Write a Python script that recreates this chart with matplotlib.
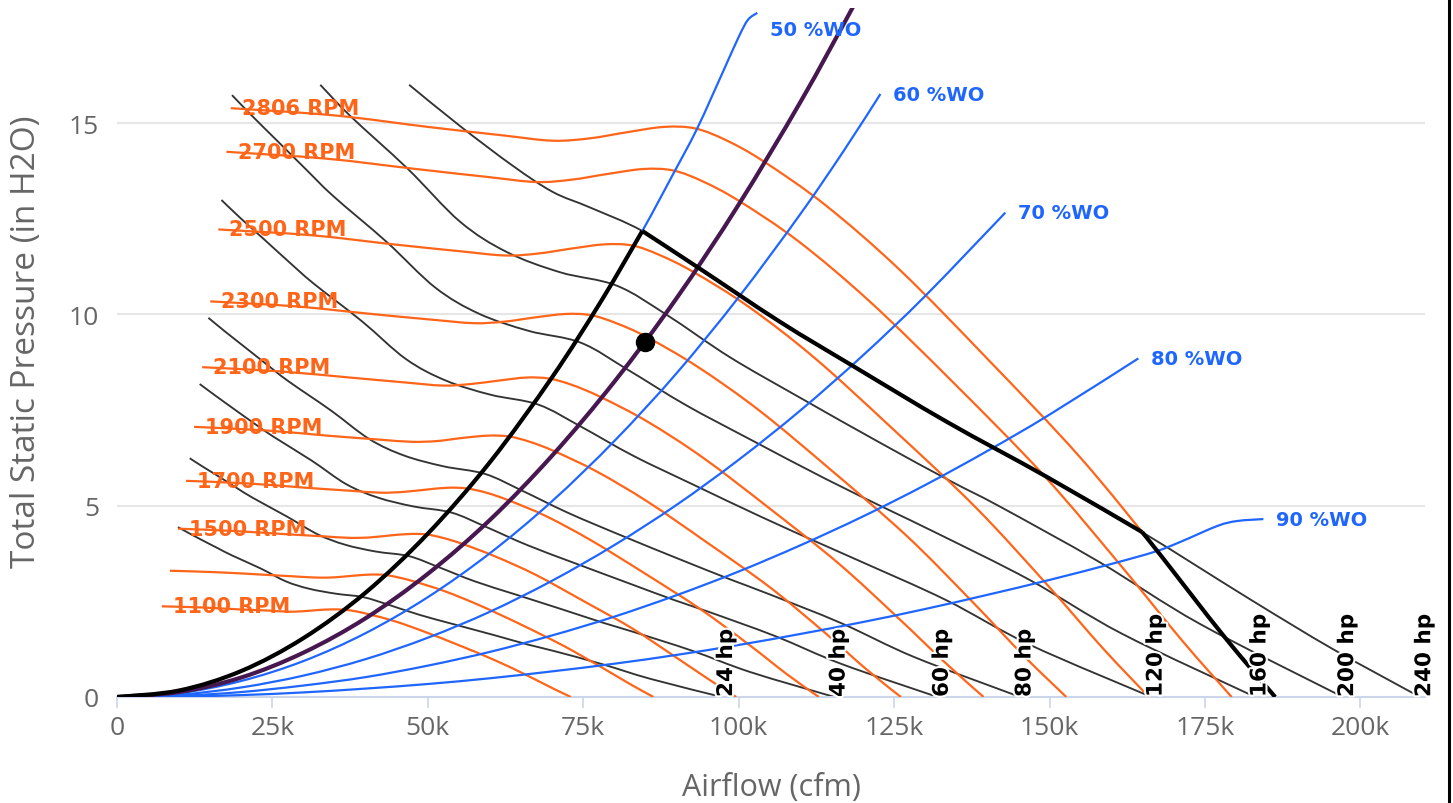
import matplotlib
matplotlib.use("Agg")
import matplotlib.pyplot as plt
import matplotlib.patheffects as pe
from matplotlib.lines import Line2D
from matplotlib.path import Path
from matplotlib.patches import PathPatch

# airflow in thousands of cfm, pressure in inches of water

# fan curves, one per speed
rpm_2806_q = [18.3, 35, 50, 62, 70, 76, 82, 88, 93, 98, 104, 114, 126, 140, 155, 168, 178, 186.3]
rpm_2806_p = [15.39, 15.20, 14.90, 14.68, 14.54, 14.60, 14.76, 14.90, 14.86, 14.55, 14.00, 12.85, 11.15, 8.84, 6.25, 3.68, 1.60, 0.0]
rpm_2700_q = [17.6, 33.7, 48.1, 59.7, 67.4, 73.1, 78.9, 84.7, 89.5, 94.3, 100.1, 109.7, 121.2, 134.7, 149.1, 161.6, 171.3, 179.3]
rpm_2700_p = [14.25, 14.07, 13.80, 13.59, 13.46, 13.52, 13.67, 13.80, 13.76, 13.47, 12.96, 11.90, 10.32, 8.19, 5.79, 3.41, 1.48, 0.0]
rpm_2500_q = [16.3, 31.2, 44.5, 55.2, 62.4, 67.7, 73.1, 78.4, 82.9, 87.3, 92.7, 101.6, 112.3, 124.7, 138.1, 149.7, 158.6, 166.0]
rpm_2500_p = [12.22, 12.07, 11.83, 11.65, 11.54, 11.59, 11.72, 11.83, 11.80, 11.55, 11.11, 10.20, 8.85, 7.02, 4.96, 2.92, 1.27, 0.0]
rpm_2300_q = [15.0, 28.7, 41.0, 50.8, 57.4, 62.3, 67.2, 72.1, 76.2, 80.3, 85.2, 93.4, 103.3, 114.8, 127.1, 137.7, 145.9, 152.7]
rpm_2300_p = [10.34, 10.21, 10.01, 9.86, 9.77, 9.81, 9.92, 10.01, 9.98, 9.77, 9.41, 8.63, 7.49, 5.94, 4.20, 2.47, 1.07, 0.0]
rpm_2100_q = [13.7, 26.2, 37.4, 46.4, 52.4, 56.9, 61.4, 65.9, 69.6, 73.3, 77.8, 85.3, 94.3, 104.8, 116.0, 125.7, 133.2, 139.4]
rpm_2100_p = [8.62, 8.51, 8.35, 8.22, 8.14, 8.18, 8.27, 8.35, 8.32, 8.15, 7.84, 7.20, 6.25, 4.95, 3.50, 2.06, 0.90, 0.0]
rpm_1900_q = [12.4, 23.7, 33.9, 42.0, 47.4, 51.5, 55.5, 59.6, 63.0, 66.4, 70.4, 77.2, 85.3, 94.8, 105.0, 113.8, 120.5, 126.1]
rpm_1900_p = [7.06, 6.97, 6.83, 6.73, 6.67, 6.69, 6.77, 6.83, 6.81, 6.67, 6.42, 5.89, 5.11, 4.05, 2.87, 1.69, 0.73, 0.0]
rpm_1700_q = [11.1, 21.2, 30.3, 37.6, 42.4, 46.0, 49.7, 53.3, 56.3, 59.4, 63.0, 69.1, 76.3, 84.8, 93.9, 101.8, 107.8, 112.9]
rpm_1700_p = [5.65, 5.58, 5.47, 5.39, 5.34, 5.36, 5.42, 5.47, 5.45, 5.34, 5.14, 4.72, 4.09, 3.24, 2.29, 1.35, 0.59, 0.0]
rpm_1500_q = [9.8, 18.7, 26.7, 33.1, 37.4, 40.6, 43.8, 47.0, 49.7, 52.4, 55.6, 60.9, 67.4, 74.8, 82.9, 89.8, 95.2, 99.6]
rpm_1500_p = [4.40, 4.34, 4.26, 4.20, 4.16, 4.17, 4.22, 4.26, 4.25, 4.16, 4.00, 3.67, 3.19, 2.53, 1.79, 1.05, 0.46, 0.0]
rpm_1300_q = [8.5, 16.2, 23.2, 28.7, 32.4, 35.2, 38.0, 40.8, 43.1, 45.4, 48.2, 52.8, 58.4, 64.9, 71.8, 77.8, 82.5, 86.3]
rpm_1300_p = [3.30, 3.26, 3.20, 3.15, 3.12, 3.13, 3.17, 3.20, 3.19, 3.12, 3.00, 2.76, 2.39, 1.90, 1.34, 0.79, 0.34, 0.0]
rpm_1100_q = [7.2, 13.7, 19.6, 24.3, 27.4, 29.8, 32.1, 34.5, 36.5, 38.4, 40.8, 44.7, 49.4, 54.9, 60.8, 65.9, 69.8, 73.0]
rpm_1100_p = [2.37, 2.34, 2.29, 2.26, 2.23, 2.24, 2.27, 2.29, 2.28, 2.24, 2.15, 1.98, 1.71, 1.36, 0.96, 0.57, 0.25, 0.0]

# constant power lines
hp_24_q = [9.8, 11.6, 13.8, 16.2, 18.5, 23.1, 27.2, 30.9, 35.2, 39.6, 43.7, 48.6, 54.2, 60.6, 66.1, 70.1, 78.0, 85.9, 97.3]
hp_24_p = [4.44, 4.28, 4.09, 3.89, 3.70, 3.36, 3.02, 2.83, 2.70, 2.61, 2.41, 2.15, 1.90, 1.62, 1.37, 1.21, 0.86, 0.47, 0.0]
hp_40_q = [11.7, 13.8, 16.4, 19.2, 21.9, 27.3, 32.3, 36.7, 41.7, 47.0, 51.8, 57.6, 64.3, 71.8, 78.4, 83.1, 92.5, 101.9, 115.4]
hp_40_p = [6.24, 6.02, 5.76, 5.47, 5.20, 4.72, 4.25, 3.98, 3.80, 3.68, 3.39, 3.02, 2.67, 2.28, 1.93, 1.70, 1.21, 0.65, 0.0]
hp_60_q = [13.3, 15.8, 18.7, 21.9, 25.1, 31.3, 36.9, 42.0, 47.7, 53.8, 59.3, 66.0, 73.6, 82.2, 89.7, 95.1, 105.9, 116.6, 132.0]
hp_60_p = [8.18, 7.88, 7.54, 7.17, 6.81, 6.18, 5.56, 5.21, 4.98, 4.82, 4.45, 3.97, 3.50, 2.98, 2.53, 2.23, 1.59, 0.86, 0.0]
hp_80_q = [14.7, 17.4, 20.6, 24.1, 27.6, 34.4, 40.6, 46.2, 52.5, 59.2, 65.2, 72.6, 81.0, 90.5, 98.7, 104.7, 116.5, 128.3, 145.3]
hp_80_p = [9.91, 9.55, 9.14, 8.69, 8.25, 7.49, 6.74, 6.31, 6.03, 5.83, 5.39, 4.81, 4.23, 3.60, 3.07, 2.70, 1.93, 1.04, 0.0]
hp_120_q = [16.8, 19.9, 23.6, 27.6, 31.6, 39.4, 46.5, 52.9, 60.1, 67.8, 74.7, 83.1, 92.7, 103.6, 113.0, 119.8, 133.4, 146.9, 166.4]
hp_120_p = [12.99, 12.51, 11.97, 11.38, 10.81, 9.82, 8.83, 8.27, 7.90, 7.64, 7.06, 6.30, 5.55, 4.71, 4.02, 3.53, 2.53, 1.36, 0.0]
hp_160_q = [18.5, 21.9, 26.0, 30.4, 34.8, 43.4, 51.2, 58.2, 66.2, 74.6, 82.2, 91.5, 102.0, 114.0, 124.4, 131.9, 146.8, 161.7, 183.1]
hp_160_p = [15.73, 15.16, 14.50, 13.79, 13.09, 11.89, 10.70, 10.02, 9.57, 9.26, 8.55, 7.63, 6.72, 5.70, 4.87, 4.28, 3.06, 1.65, 0.0]
hp_200_q = [32.7, 37.5, 46.8, 55.2, 62.7, 71.3, 80.4, 88.5, 98.6, 109.9, 122.8, 134.0, 142.1, 158.1, 174.2, 197.2]
hp_200_p = [16.00, 15.19, 13.80, 12.42, 11.63, 11.10, 10.75, 9.98, 8.88, 7.82, 6.64, 5.65, 4.97, 3.52, 1.91, 0.0]
hp_240_q = [47.0, 55.2, 63.7, 70.1, 76.0, 84.5, 93.8, 106.7, 118.4, 133.5, 149.6, 164.9, 182.3, 195.6, 209.6]
hp_240_p = [16.00, 14.92, 13.88, 13.20, 12.80, 12.18, 11.19, 9.80, 8.65, 7.19, 5.75, 4.31, 2.55, 1.25, 0.0]

# percent wide open lines
wo_50_q = [0, 10, 20, 30, 40, 50, 60, 70, 78, 84.5, 89.4, 93.3, 97.5, 100.0, 101.5, 103.0]
wo_50_p = [0, 0.17, 0.68, 1.54, 2.73, 4.27, 6.14, 8.36, 10.38, 12.18, 13.65, 14.85, 16.35, 17.25, 17.70, 17.88]
wo_60_q = [0, 10, 20, 30, 40, 50, 60, 70, 80, 90, 100, 110, 117, 122.8]
wo_60_p = [0, 0.10, 0.42, 0.94, 1.67, 2.61, 3.76, 5.12, 6.69, 8.46, 10.45, 12.64, 14.30, 15.76]
wo_70_q = [0, 10, 20, 30, 40, 50, 60, 70, 80, 90, 100, 110, 120, 130, 142.9]
wo_70_p = [0, 0.06, 0.25, 0.56, 0.99, 1.55, 2.23, 3.04, 3.97, 5.02, 6.20, 7.50, 8.93, 10.48, 12.66]
wo_80_q = [0, 10, 20, 30, 40, 50, 60, 70, 80, 90, 100, 110, 120, 130, 140, 150, 164.3]
wo_80_p = [0, 0.03, 0.13, 0.30, 0.52, 0.82, 1.18, 1.61, 2.10, 2.66, 3.28, 3.97, 4.72, 5.54, 6.43, 7.38, 8.85]
wo_90_q = [0, 10, 20, 30, 40, 50, 60, 70, 80, 90, 100, 110, 120, 130, 140, 150, 160, 167, 171, 177, 180.2, 184.4]
wo_90_p = [0, 0.01, 0.05, 0.12, 0.22, 0.34, 0.49, 0.67, 0.87, 1.10, 1.36, 1.65, 1.96, 2.30, 2.67, 3.06, 3.48, 3.80, 4.05, 4.47, 4.60, 4.65]

# system curve through the operating point
system_q = [0, 10, 20, 30, 40, 50, 60, 70, 80, 90, 100, 110, 118, 120]
system_p = [0, 0.13, 0.51, 1.16, 2.06, 3.22, 4.63, 6.31, 8.24, 10.42, 12.87, 15.57, 17.92, 18.53]

# operating envelope (thick black): system side, 240 hp side, top speed side
limit_q = [0, 10, 20, 30, 40, 50, 60, 70, 78, 84.5, 93.8, 106.7, 118.4, 133.5, 149.6, 164.9, 168.0, 178.0, 186.3]
limit_p = [0, 0.17, 0.68, 1.54, 2.73, 4.27, 6.14, 8.36, 10.38, 12.18, 11.19, 9.80, 8.65, 7.19, 5.75, 4.31, 3.68, 1.60, 0]
limit_corners = [9, 15]

op_q = 84.9
op_p = 9.28

x_ticks = [0, 25, 50, 75, 100, 125, 150, 175, 200]
y_ticks = [0, 5, 10, 15]

ORANGE = "#ff6519"
BLUE = "#1f66ff"
PURPLE = "#46184f"
GREY_TEXT = "#666666"
AXIS = "#ccd6eb"

rpm_curves = [
    ("2806 RPM", rpm_2806_q, rpm_2806_p),
    ("2700 RPM", rpm_2700_q, rpm_2700_p),
    ("2500 RPM", rpm_2500_q, rpm_2500_p),
    ("2300 RPM", rpm_2300_q, rpm_2300_p),
    ("2100 RPM", rpm_2100_q, rpm_2100_p),
    ("1900 RPM", rpm_1900_q, rpm_1900_p),
    ("1700 RPM", rpm_1700_q, rpm_1700_p),
    ("1500 RPM", rpm_1500_q, rpm_1500_p),
    (None, rpm_1300_q, rpm_1300_p),
    ("1100 RPM", rpm_1100_q, rpm_1100_p),
]
hp_lines = [
    ("24 hp", hp_24_q, hp_24_p),
    ("40 hp", hp_40_q, hp_40_p),
    ("60 hp", hp_60_q, hp_60_p),
    ("80 hp", hp_80_q, hp_80_p),
    ("120 hp", hp_120_q, hp_120_p),
    ("160 hp", hp_160_q, hp_160_p),
    ("200 hp", hp_200_q, hp_200_p),
    ("240 hp", hp_240_q, hp_240_p),
]
wo_lines = [
    ("50 %WO", wo_50_q, wo_50_p),
    ("60 %WO", wo_60_q, wo_60_p),
    ("70 %WO", wo_70_q, wo_70_p),
    ("80 %WO", wo_80_q, wo_80_p),
    ("90 %WO", wo_90_q, wo_90_p),
]


def spline_path(q, p):
    # render the points as a smooth curve, like a highcharts "spline" series
    pts = list(zip(q, p))
    verts = [pts[0]]
    codes = [Path.MOVETO]
    n = len(pts)
    for i in range(n - 1):
        p0 = pts[max(i - 1, 0)]
        p1 = pts[i]
        p2 = pts[i + 1]
        p3 = pts[min(i + 2, n - 1)]
        c1 = (p1[0] + (p2[0] - p0[0]) / 6, p1[1] + (p2[1] - p0[1]) / 6)
        c2 = (p2[0] - (p3[0] - p1[0]) / 6, p2[1] - (p3[1] - p1[1]) / 6)
        verts += [c1, c2, p2]
        codes += [Path.CURVE4] * 3
    return Path(verts, codes)


def draw_spline(ax, q, p, **kw):
    patch = PathPatch(spline_path(q, p), fill=False, capstyle="butt", **kw)
    ax.add_patch(patch)
    return patch


W, H = 1453, 804
fig = plt.figure(figsize=(W / 100, H / 100), dpi=100)
ax = fig.add_axes([117 / W, 1 - 698 / H, (1425 - 117) / W, (698 - 9.3) / H])
ax.set_xlim(0, 210.4)
ax.set_ylim(0, 18)

halo = [pe.withStroke(linewidth=3, foreground="white")]

for label, q, p in hp_lines:
    draw_spline(ax, q, p, edgecolor="#333333", lw=1.35, zorder=2)
    ax.annotate(label, (q[-1], 0), xytext=(3, 0), textcoords="offset points",
                rotation=90, ha="center", va="bottom", fontsize=15.5,
                fontweight="bold", color="black", zorder=8, path_effects=halo,
                annotation_clip=False)

for label, q, p in rpm_curves:
    draw_spline(ax, q, p, edgecolor=ORANGE, lw=1.6, zorder=3)
    if label:
        ax.annotate(label, (q[0], p[0]), xytext=(8, 0), textcoords="offset points",
                    ha="left", va="center", fontsize=15, fontweight="bold",
                    color=ORANGE, zorder=7)

for label, q, p in wo_lines:
    draw_spline(ax, q, p, edgecolor=BLUE, lw=1.6, zorder=4)
    ax.annotate(label, (q[-1], min(p[-1], 17.45)), xytext=(9, 0),
                textcoords="offset points", ha="left", va="center",
                fontsize=14, fontweight="bold", color=BLUE, zorder=7,
                annotation_clip=False)

draw_spline(ax, system_q, system_p, edgecolor=PURPLE, lw=3.0, zorder=5)

# envelope: smooth pieces joined at sharp corners
bounds = [0] + limit_corners + [len(limit_q) - 1]
for a, b in zip(bounds[:-1], bounds[1:]):
    draw_spline(ax, limit_q[a:b + 1], limit_p[a:b + 1], edgecolor="black",
                lw=3.0, zorder=6, joinstyle="miter")
ax.plot([op_q], [op_p], "o", color="black", markersize=13, zorder=9)

# highcharts-like axes
for side in ("top", "right", "left"):
    ax.spines[side].set_visible(False)
ax.spines["bottom"].set_color(AXIS)
ax.spines["bottom"].set_linewidth(1.5)
ax.set_xticks(x_ticks)
ax.set_xticklabels(["0"] + [f"{v}k" for v in x_ticks[1:]])
ax.set_yticks(y_ticks)
ax.tick_params(axis="x", length=8, width=1.2, color=AXIS, labelsize=19,
               labelcolor=GREY_TEXT, pad=5)
ax.tick_params(axis="y", length=0, labelsize=19, labelcolor=GREY_TEXT, pad=13)
for lbl in ax.get_xticklabels() + ax.get_yticklabels():
    lbl.set_family("Open Sans")
for v in y_ticks[1:]:
    ax.axhline(v, color="#e6e6e6", lw=1.5, zorder=0)

ax.set_xlabel("Airflow (cfm)", fontsize=22, color=GREY_TEXT, family="Open Sans",
              va="center")
ax.set_ylabel("Total Static Pressure (in H2O)", fontsize=24, color=GREY_TEXT,
              family="Open Sans", va="center")
ax.xaxis.set_label_coords(0.5, (698 - 788) / 688.7)
ax.yaxis.set_label_coords((27 - 117) / 1308, (698 - 342) / 688.7)

# window border on the right edge of the screenshot
fig.add_artist(Line2D([1448.5 / W, 1448.5 / W], [0, 1], color="black", lw=2.2))

fig.savefig("out.png", dpi=100)
